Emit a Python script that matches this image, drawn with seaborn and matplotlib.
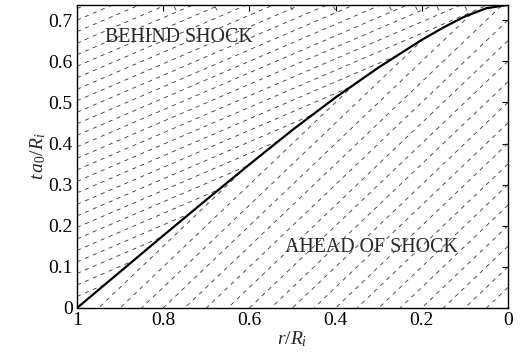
import numpy as np
import pandas as pd
import matplotlib
matplotlib.use("Agg")
import matplotlib.pyplot as plt
import seaborn as sns

# ---- data ----
shock_r = [1.0, 0.9, 0.8, 0.7, 0.6, 0.5, 0.4, 0.3, 0.2, 0.15, 0.1, 0.05, 0.0]
shock_t = [0.0, 0.088, 0.176, 0.263, 0.349, 0.433, 0.512, 0.585, 0.652, 0.682, 0.709, 0.729, 0.737]

ahead_r0 = [0.05, 0.10, 0.15, 0.20, 0.25, 0.30, 0.35, 0.40, 0.45, 0.50,
            0.55, 0.60, 0.65, 0.70, 0.75, 0.80, 0.85, 0.90, 0.95]   # feet on t = 0
ahead_slope = 1.0
behind_t0 = [0.028 * k for k in range(1, 27)]                        # feet on r = 1
behind_slope = 0.45
cplus_r = [0.77, 0.675, 0.50, 0.40, 0.27, 0.21, 0.16, 0.095]          # short outgoing marks at top
cplus_t0 = 0.724
cplus_slope = 2.0

xticks = [1.0, 0.8, 0.6, 0.4, 0.2, 0.0]
xticklabels = ["1", "0.8", "0.6", "0.4", "0.2", "0"]
yticks = [0.0, 0.1, 0.2, 0.3, 0.4, 0.5, 0.6, 0.7]
yticklabels = ["0", "0.1", "0.2", "0.3", "0.4", "0.5", "0.6", "0.7"]
t_top = 0.737

# ---- build characteristic table ----
sr = np.array(shock_r)[::-1]
st = np.array(shock_t)[::-1]
grid = np.linspace(0, 1, 2000)
S = np.interp(grid, sr, st)

rows = []
for i, r0 in enumerate(ahead_r0):
    t = ahead_slope * (r0 - grid)
    m = (grid <= r0) & (t <= S)
    for rr, tt in zip(grid[m], t[m]):
        rows.append(("a%d" % i, rr, tt))
for i, t0 in enumerate(behind_t0):
    t = t0 + behind_slope * (1 - grid)
    m = (t >= S) & (t <= t_top + 0.01)
    keep = []
    for j in range(len(grid) - 1, -1, -1):
        if m[j]:
            keep.append(j)
        else:
            break
    for j in keep:
        rows.append(("b%d" % i, grid[j], t[j]))
for i, rc in enumerate(cplus_r):
    rr = np.linspace(rc, rc + 0.012, 10)
    tt = cplus_t0 + cplus_slope * (rr - rc)
    for a, b in zip(rr, tt):
        rows.append(("c%d" % i, a, b))
char_df = pd.DataFrame(rows, columns=["line", "r", "t"])
shock_df = pd.DataFrame({"r": shock_r, "t": shock_t})

# ---- plot ----
sns.set_theme(style="white")
plt.rcParams["font.family"] = ["Liberation Serif", "DejaVu Serif"]
plt.rcParams["mathtext.fontset"] = "custom"
plt.rcParams["mathtext.rm"] = "Liberation Serif"
plt.rcParams["mathtext.it"] = "Liberation Serif:italic"
plt.rcParams["lines.scale_dashes"] = False
plt.rcParams["lines.dashed_pattern"] = [3.0, 3.2]

fig = plt.figure(figsize=(5.22, 3.54), dpi=100)
ax = fig.add_axes([0.1475, 0.13, 0.8255, 0.856])

sns.lineplot(data=char_df, x="r", y="t", units="line", estimator=None, sort=False,
             color="#333333", lw=0.6, linestyle="--", ax=ax, legend=False)
sns.lineplot(data=shock_df, x="r", y="t", estimator=None, sort=False,
             color="black", lw=1.6, ax=ax, legend=False)

ax.set_xlim(1, 0)
ax.set_ylim(0, t_top)
ax.set_xticks(xticks)
ax.set_xticklabels(xticklabels)
ax.set_yticks(yticks)
ax.set_yticklabels(yticklabels)
ax.tick_params(direction="in", length=4, width=0.8, top=True, right=True,
               labelsize=14, colors="black", pad=3)
for s in ax.spines.values():
    s.set_color("black")
    s.set_linewidth(1.0)
ax.set_xlabel(r"$r/R_i$", fontsize=14, labelpad=0)
ax.set_ylabel(r"$t\,a_0/R_i$", fontsize=14, labelpad=0)

ax.text(0.935, 0.657, "BEHIND SHOCK", fontsize=14.3, va="center", ha="left")
ax.text(0.517, 0.148, "AHEAD OF SHOCK", fontsize=14.3, va="center", ha="left")

fig.savefig("out.png", dpi=100)
